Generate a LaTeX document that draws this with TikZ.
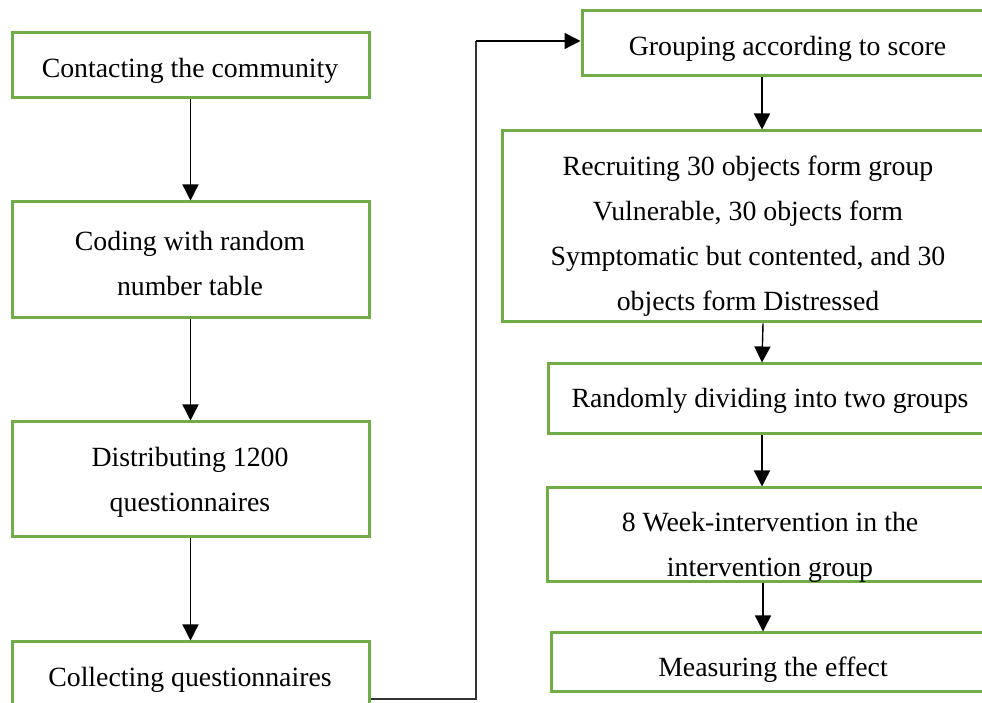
\documentclass[tikz,border=0pt]{standalone}
\usepackage{fontspec}
\setmainfont{Liberation Serif}
\usetikzlibrary{arrows.meta}
\definecolor{boxgreen}{RGB}{112,173,71}
\tikzset{
  box/.style={draw=boxgreen, line width=3pt, rectangle, inner sep=0pt},
  txt/.style={align=center, inner sep=0pt, font=\fontsize{27.8}{45}\selectfont},
  arr/.style={line width=1.4pt, -{Triangle[length=16pt,width=16pt]}},
  conn/.style={line width=1.4pt, draw=black!80}
}
\begin{document}
\begin{tikzpicture}[x=1pt,y=1pt]
\useasboundingbox (0,0) rectangle (982,703);
\clip (0,0) rectangle (982,703);
\fill[white] (0,0) rectangle (982,703);
% left column boxes
\node[box, minimum width=357pt, minimum height=65pt] (b1) at (190.5,637.5) {};
\node[box, minimum width=357pt, minimum height=116pt] (b2) at (190.5,443) {};
\node[box, minimum width=357pt, minimum height=115pt] (b3) at (190.5,223.5) {};
\node[box, minimum width=357pt, minimum height=81pt] (b4) at (190.5,20.5) {};
% right column boxes
\node[box, minimum width=428pt, minimum height=65pt] (b5) at (796,659.5) {};
\node[box, minimum width=508pt, minimum height=191pt] (b6) at (756,476.5) {};
\node[box, minimum width=462pt, minimum height=70pt] (b7) at (779,304) {};
\node[box, minimum width=463pt, minimum height=94pt] (b8) at (778.5,168) {};
\node[box, minimum width=459pt, minimum height=59pt] (b9) at (780.5,40.5) {};
% texts
\node[txt] (t1) at (190,703-71) {Contacting the community};
\node[txt] (t2) at (190,703-263.5) {Coding with random\\number table};
\node[txt] (t3) at (190,703-482) {Distributing 1200\\questionnaires};
\node[txt] (t4) at (190,703-680) {Collecting questionnaires};
\node[txt] (t5) at (787.5,703-49) {Grouping according to score};
\node[txt] (t6) at (748,703-236) {Recruiting 30 objects form group\\Vulnerable, 30 objects form\\Symptomatic but contented, and 30\\objects form Distressed};
\node[txt] (t7) at (770,703-401) {Randomly dividing into two groups};
\node[txt] (t8) at (770,703-547.5) {8 Week-intervention in the\\intervention group};
\node[txt] (t9) at (773,703-670) {Measuring the effect};
% connectors
\draw[arr] (b1.south) -- (b2.north);
\draw[arr] (b2.south) -- (b3.north);
\draw[arr] (b3.south) -- (b4.north);
\coordinate (ca) at (762,0);
\coordinate (cb) at (763,0);
\draw[arr] (b5.south -| ca) -- (b6.north -| ca);
\draw[arr] (b6.south -| cb) -- (b7.north -| ca);
\draw[arr] (b7.south -| ca) -- (b8.north -| ca);
\draw[arr] (b8.south -| cb) -- (b9.north -| cb);
\coordinate (k) at (476,4);
\coordinate (kt) at (476,662);
\draw[conn] (b4.east |- k) -- (k) -- (kt);
\draw[arr] (kt) -- (b5.west |- kt);
\end{tikzpicture}
\end{document}
